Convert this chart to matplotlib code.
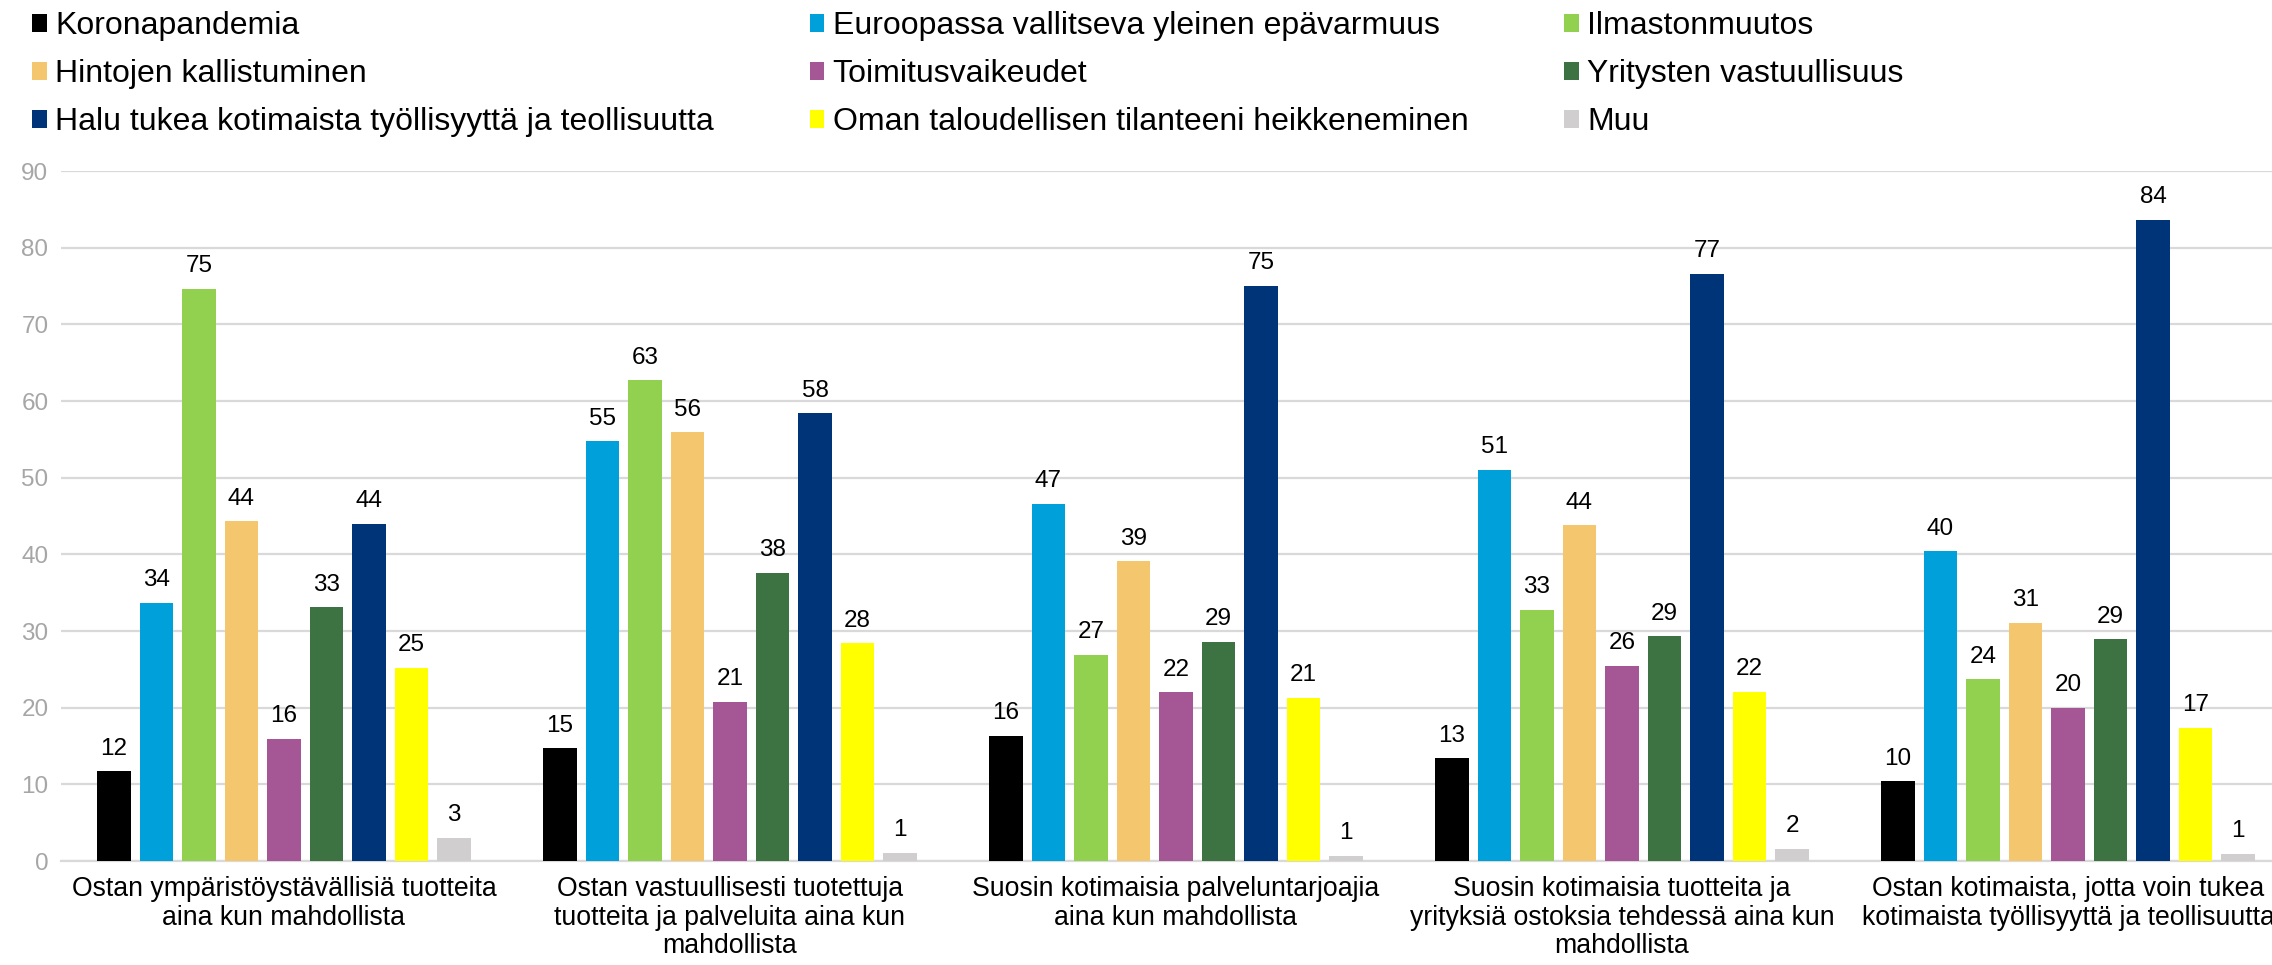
"""Grouped bar chart: reasons behind purchasing habits (%)."""
import numpy as np
import matplotlib
matplotlib.use("Agg")
import matplotlib.pyplot as plt
from matplotlib.patches import Patch

plt.rcParams['font.family'] = ['Liberation Sans', 'DejaVu Sans']

categories = [
    "Ostan ympäristöystävällisiä tuotteita\naina kun mahdollista",
    "Ostan vastuullisesti tuotettuja\ntuotteita ja palveluita aina kun\nmahdollista",
    "Suosin kotimaisia palveluntarjoajia\naina kun mahdollista",
    "Suosin kotimaisia tuotteita ja\nyrityksiä ostoksia tehdessä aina kun\nmahdollista",
    "Ostan kotimaista, jotta voin tukea\nkotimaista työllisyyttä ja teollisuutta",
]

series_names = [
    "Koronapandemia",
    "Euroopassa vallitseva yleinen epävarmuus",
    "Ilmastonmuutos",
    "Hintojen kallistuminen",
    "Toimitusvaikeudet",
    "Yritysten vastuullisuus",
    "Halu tukea kotimaista työllisyyttä ja teollisuutta",
    "Oman taloudellisen tilanteeni heikkeneminen",
    "Muu",
]

koronapandemia = [11.7, 14.7, 16.3, 13.4, 10.4]
epavarmuus = [33.7, 54.75, 46.6, 51.0, 40.4]
ilmastonmuutos = [74.6, 62.7, 26.9, 32.75, 23.7]
hintojen = [44.3, 55.9, 39.1, 43.8, 31.1]
toimitus = [15.9, 20.75, 22.0, 25.5, 20.0]
vastuullisuus = [33.1, 37.6, 28.6, 29.3, 28.9]
halu_tukea = [44.0, 58.4, 75.0, 76.6, 83.6]
oma_talous = [25.2, 28.4, 21.25, 22.1, 17.4]
muu = [3.0, 1.06, 0.7, 1.6, 0.9]

series_values = [koronapandemia, epavarmuus, ilmastonmuutos, hintojen, toimitus,
                 vastuullisuus, halu_tukea, oma_talous, muu]

colors = ["#000000", "#00A0DA", "#92D050", "#F4C76E", "#A55795",
          "#3D7243", "#003478", "#FFFF00", "#D0CECE"]

fig = plt.figure(figsize=(22.72, 9.65), dpi=100)
ax = fig.add_axes([61 / 2272, 104 / 965, 2230 / 2272, 690 / 965])

x = np.arange(len(categories))
pitch = 0.0953
width = 0.0756
n = len(series_values)

for i, (vals, col) in enumerate(zip(series_values, colors)):
    pos = x + (i - (n - 1) / 2) * pitch
    bars = ax.bar(pos, vals, width=width, color=col, zorder=3)
    for b, v in zip(bars, vals):
        ax.annotate(f"{v:.0f}", (b.get_x() + b.get_width() / 2, v),
                    xytext=(0, 12), textcoords="offset points",
                    ha="center", va="baseline", fontsize=17.5, color="#000000")

ax.set_xlim(-0.5, len(categories) - 0.5)
ax.set_ylim(0, 90)
ax.set_yticks(np.arange(0, 91, 10))
ax.yaxis.grid(True, color="#D9D9D9", linewidth=1.6, zorder=0)
ax.set_axisbelow(True)
for s in ["top", "right", "left"]:
    ax.spines[s].set_visible(False)
ax.spines["bottom"].set_color("#D9D9D9")
ax.spines["bottom"].set_linewidth(1.6)
ax.tick_params(axis="y", length=0, pad=9, labelsize=17.5, labelcolor="#A6A6A6")
ax.tick_params(axis="x", length=0, pad=11)
ax.set_xticks(x)
ax.set_xticklabels(categories, fontsize=19.2, linespacing=1.13)

# legend fills column-first, so reorder to read row by row like the source
handles = [Patch(facecolor=c, edgecolor="none") for c in colors]
order = [0, 3, 6, 1, 4, 7, 2, 5, 8]
fig.legend([handles[k] for k in order], [series_names[k] for k in order],
           ncol=3, loc="upper left", bbox_to_anchor=(32 / 2272, 1 - 11 / 965),
           frameon=False, fontsize=23, handlelength=0.46, handleheight=0.5,
           handletextpad=0.26, columnspacing=3.0, labelspacing=0.57,
           borderpad=0, borderaxespad=0)

fig.savefig("out.png", dpi=100, facecolor="white")
